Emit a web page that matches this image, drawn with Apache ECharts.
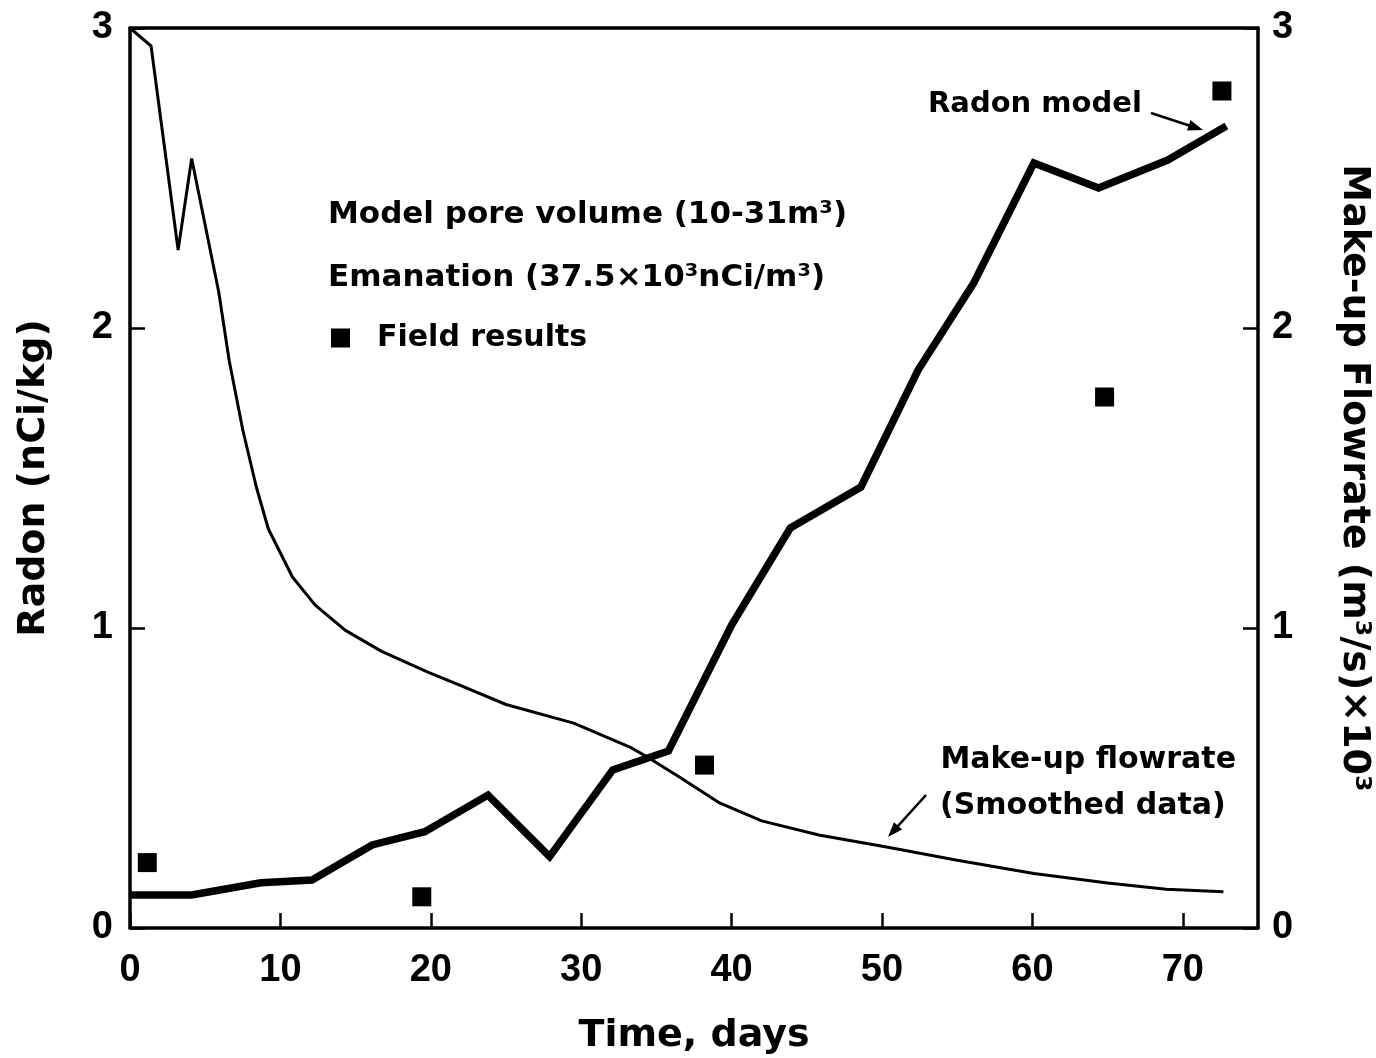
<!DOCTYPE html>
<html>
<head>
<meta charset="utf-8">
<script src="https://cdn.jsdelivr.net/npm/echarts@6/dist/echarts.min.js"></script>
<style>
html,body{margin:0;padding:0;background:#fff;}
#chart{width:1376px;height:1058px;}
</style>
</head>
<body>
<div id="chart"></div>
<script>
// Radon model (thick line, left axis)
const modelDays   = [0, 4.1, 8.7, 12.1, 16.1, 19.6, 23.8, 27.9, 32.1, 35.8, 40.0, 43.9, 48.6, 52.4, 56.1, 60.1, 64.4, 69.0, 72.9];
const modelValues = [0.11, 0.11, 0.151, 0.16, 0.277, 0.321, 0.443, 0.238, 0.527, 0.59, 1.01, 1.333, 1.47, 1.86, 2.15, 2.55, 2.467, 2.56, 2.673];

// Make-up flowrate, smoothed data (thin line, right axis)
const flowDays   = [0, 1.4, 3.2, 4.1, 5.9, 6.6, 7.5, 8.4, 9.2, 10.8, 12.3, 14.3, 16.7, 19.8, 22.0, 25.0, 29.5, 33.2, 34.5, 36.5, 39.2, 42.0, 45.8, 50.3, 55.0, 60.1, 65.0, 68.9, 72.7];
const flowValues = [3.0, 2.94, 2.26, 2.565, 2.12, 1.89, 1.66, 1.47, 1.33, 1.17, 1.077, 0.993, 0.923, 0.853, 0.808, 0.745, 0.683, 0.604, 0.567, 0.504, 0.417, 0.357, 0.31, 0.27, 0.226, 0.182, 0.15, 0.129, 0.121];

// Field results (squares, left axis)
const fieldDays   = [1.15, 19.4, 38.2, 64.8, 72.6];
const fieldValues = [0.218, 0.104, 0.543, 1.77, 2.79];

// Axis tick labels
const xTicks = [0, 10, 20, 30, 40, 50, 60, 70];
const yTicks = [0, 1, 2, 3];

const zip = (a, b) => a.map((v, i) => [v, b[i]]);

const TICK_FONT = { fontSize: 38, fontWeight: 'bold', fontFamily: 'Liberation Sans', color: '#000' };
const NAME_FONT = { fontSize: 38, fontWeight: 'bold', fontFamily: 'DejaVu Sans', color: '#000' };
const ANNO = 'bold 30px "DejaVu Sans"';

function arrow(x1, y1, x2, y2) {
  const dx = x2 - x1, dy = y2 - y1, L = Math.hypot(dx, dy);
  const ux = dx / L, uy = dy / L, px = -uy, py = ux;
  const hl = 15, hw = 5.5;
  const bx = x2 - ux * hl, by = y2 - uy * hl;
  return [
    { type: 'line', shape: { x1: x1, y1: y1, x2: bx + ux * 2, y2: by + uy * 2 }, style: { stroke: '#000', lineWidth: 2.5 }, z: 100 },
    { type: 'polygon', shape: { points: [[x2, y2], [bx + px * hw, by + py * hw], [bx - px * hw, by - py * hw]] }, style: { fill: '#000' }, z: 100 }
  ];
}

const chart = echarts.init(document.getElementById('chart'), null, { renderer: 'canvas' });

const axisLineStyle = { color: '#000', width: 3.5 };

chart.setOption({
  backgroundColor: '#fff',
  animation: false,
  grid: { left: 130, right: 118, top: 28, bottom: 130, containLabel: false, outerBoundsMode: 'none' },
  legend: {
    data: ['Field results'],
    left: 331, top: 323, padding: 0,
    icon: 'rect', itemWidth: 19, itemHeight: 19,
    itemStyle: { color: '#000', opacity: 1 },
    textStyle: { fontSize: 30, fontWeight: 'bold', fontFamily: 'DejaVu Sans', color: '#000', padding: [0, 0, 0, 22] },
    selectedMode: false
  },
  xAxis: [
    {
      type: 'value', position: 'bottom', min: 0, max: 75, interval: 10,
      axisLine: { show: true, onZero: false, lineStyle: axisLineStyle },
      axisTick: { show: true, inside: true, length: 15, lineStyle: { color: '#000', width: 2.5 } },
      axisLabel: Object.assign({ margin: 24, showMaxLabel: false,
        formatter: v => (xTicks.indexOf(v) >= 0 ? String(v) : '') }, TICK_FONT),
      splitLine: { show: false },
      name: 'Time, days', nameLocation: 'middle', nameGap: 89, nameTextStyle: NAME_FONT
    },
    {
      type: 'value', position: 'top', min: 0, max: 75, interval: 10,
      axisLine: { show: true, onZero: false, lineStyle: axisLineStyle },
      axisTick: { show: false }, axisLabel: { show: false }, splitLine: { show: false }
    }
  ],
  yAxis: [
    {
      type: 'value', position: 'left', min: 0, max: 3, interval: 1,
      axisLine: { show: true, onZero: false, lineStyle: axisLineStyle },
      axisTick: { show: true, inside: true, length: 15, lineStyle: { color: '#000', width: 2.5 } },
      axisLabel: Object.assign({ margin: 17, formatter: v => (yTicks.indexOf(v) >= 0 ? String(v) : '') }, TICK_FONT),
      splitLine: { show: false },
      name: 'Radon (nCi/kg)', nameLocation: 'middle', nameGap: 77, nameTextStyle: NAME_FONT
    },
    {
      type: 'value', position: 'right', min: 0, max: 3, interval: 1,
      axisLine: { show: true, onZero: false, lineStyle: axisLineStyle },
      axisTick: { show: true, inside: true, length: 15, lineStyle: { color: '#000', width: 2.5 } },
      axisLabel: Object.assign({ margin: 14, formatter: v => (yTicks.indexOf(v) >= 0 ? String(v) : '') }, TICK_FONT),
      splitLine: { show: false },
      name: 'Make-up Flowrate (m³/s)×10³', nameLocation: 'middle', nameGap: 77, nameRotate: -90,
      nameTextStyle: NAME_FONT
    }
  ],
  series: [
    {
      name: 'Radon model', type: 'line', xAxisIndex: 0, yAxisIndex: 0,
      data: zip(modelDays, modelValues), symbol: 'none',
      lineStyle: { color: '#000', width: 7.5, join: 'miter' }, z: 3
    },
    {
      name: 'Make-up flowrate', type: 'line', xAxisIndex: 0, yAxisIndex: 1,
      data: zip(flowDays, flowValues), symbol: 'none',
      lineStyle: { color: '#000', width: 3 }, z: 3
    },
    {
      name: 'Field results', type: 'scatter', xAxisIndex: 0, yAxisIndex: 0,
      data: zip(fieldDays, fieldValues), symbol: 'rect', symbolSize: 19,
      itemStyle: { color: '#000', opacity: 1 }, z: 4
    }
  ],
  graphic: [
    { type: 'text', x: 328, y: 215, style: { text: 'Model pore volume (10-31m³)', font: 'bold 31px "DejaVu Sans"', fill: '#000', verticalAlign: 'middle' } },
    { type: 'text', x: 328, y: 278, style: { text: 'Emanation (37.5×10³nCi/m³)', font: 'bold 31px "DejaVu Sans"', fill: '#000', verticalAlign: 'middle' } },
    { type: 'text', x: 928, y: 104, style: { text: 'Radon model', font: 'bold 29px "DejaVu Sans"', fill: '#000', verticalAlign: 'middle' } },
    { type: 'text', x: 1236, y: 760, style: { text: 'Make-up flowrate', font: ANNO, fill: '#000', align: 'right', verticalAlign: 'middle' } },
    { type: 'text', x: 940, y: 806, style: { text: '(Smoothed data)', font: ANNO, fill: '#000', verticalAlign: 'middle' } }
  ].concat(arrow(1151, 113, 1203, 130)).concat(arrow(926, 795, 888, 837))
});
</script>
</body>
</html>
